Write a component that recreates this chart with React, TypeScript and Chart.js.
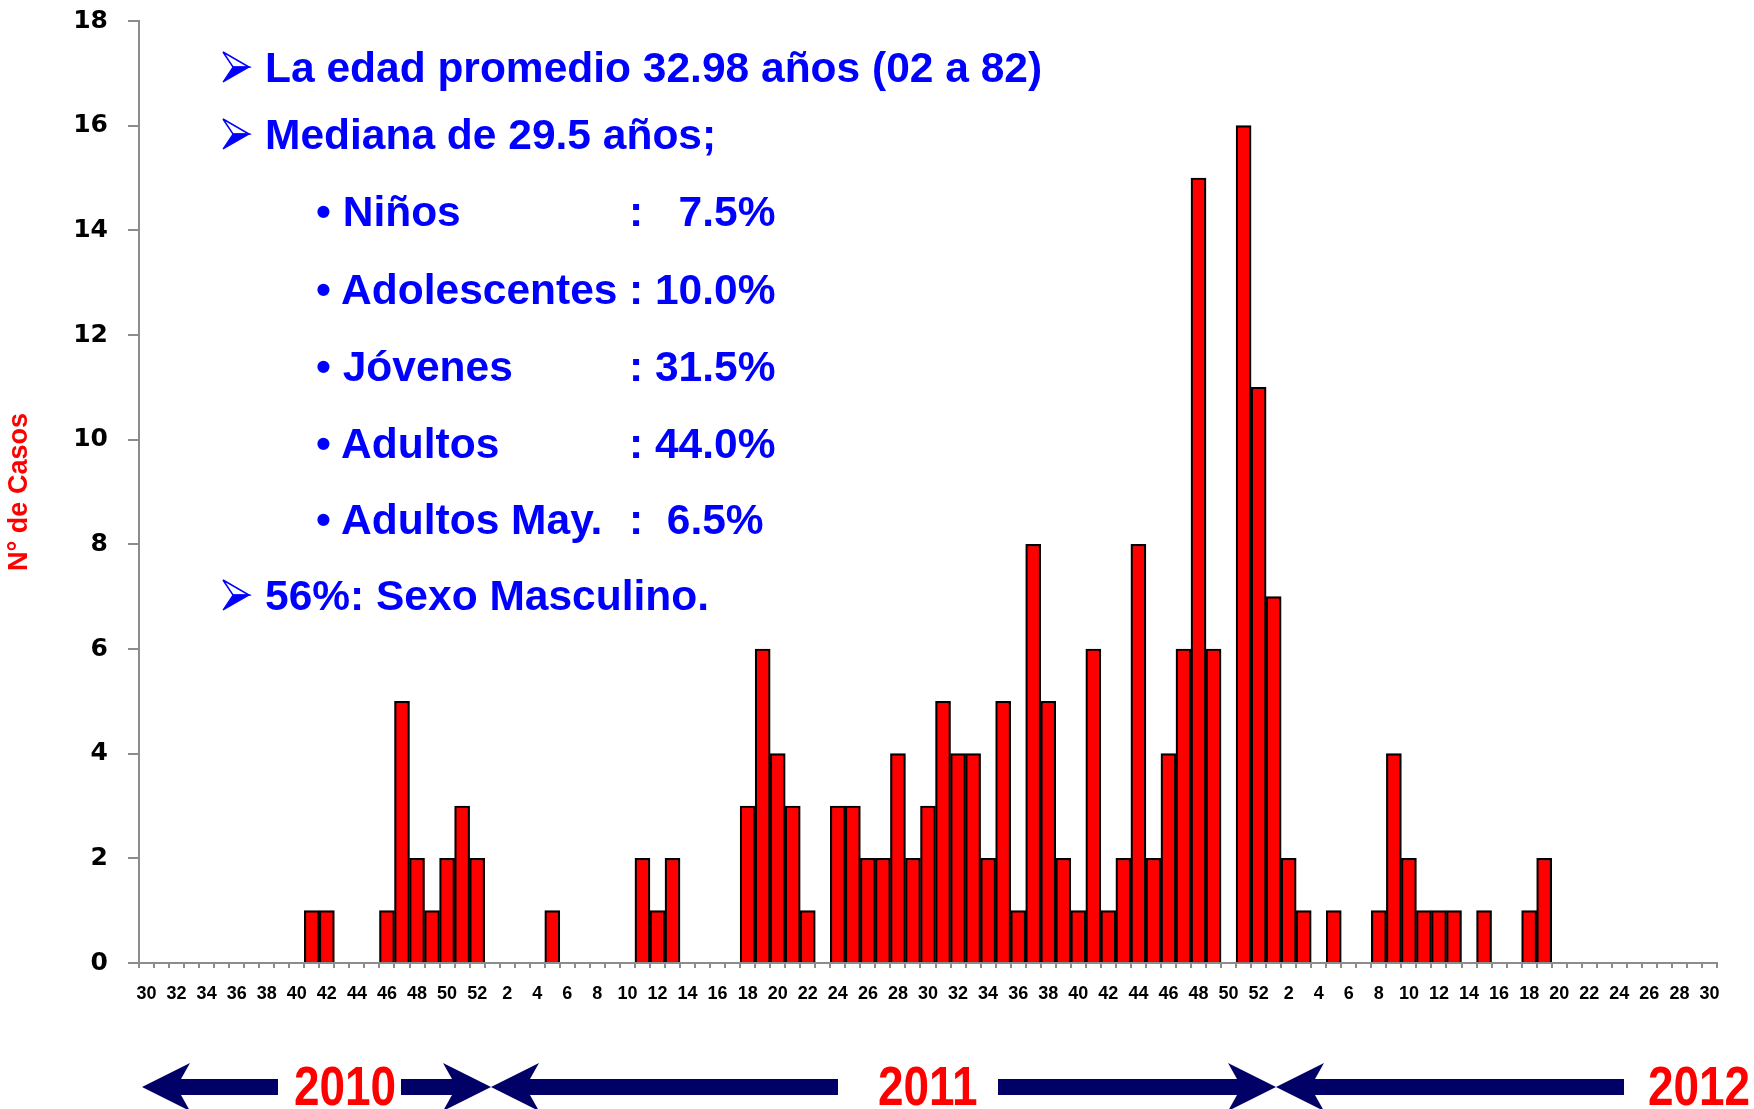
import React, { useEffect, useRef } from "react";
import { Chart, registerables } from "chart.js";

Chart.register(...registerables);

// Epidemiological weeks (2010 w30 – 2012 w30)
const weeks2010 = ["30","31","32","33","34","35","36","37","38","39","40","41","42","43","44","45","46","47","48","49","50","51","52"];
const weeks2011 = ["1","2","3","4","5","6","7","8","9","10","11","12","13","14","15","16","17","18","19","20","21","22","23","24","25","26","27","28","29","30","31","32","33","34","35","36","37","38","39","40","41","42","43","44","45","46","47","48","49","50","51","52"];
const weeks2012 = ["1","2","3","4","5","6","7","8","9","10","11","12","13","14","15","16","17","18","19","20","21","22","23","24","25","26","27","28","29","30"];

// N° de casos per week
const cases2010 = [0,0,0,0,0,0,0,0,0,0,0,1,1,0,0,0,1,5,2,1,2,3,2];
const cases2011 = [0,0,0,0,1,0,0,0,0,0,2,1,2,0,0,0,0,3,6,4,3,1,0,3,3,2,2,4,2,3,5,4,4,2,5,1,8,5,2,1,6,1,2,8,2,4,6,15,6,0,16,11];
const cases2012 = [7,2,1,0,1,0,0,1,4,2,1,1,1,0,1,0,0,1,2,0,0,0,0,0,0,0,0,0,0,0];

const yMin = 0;
const yMax = 18;
const yStep = 2;

const yearLabels = ["2010", "2011", "2012"];
const yAxisTitle = "N° de Casos";

const headlineLines = [
  "La edad promedio 32.98 años (02 a 82)",
  "Mediana de 29.5 años;",
];
const groupNames = ["• Niños", "• Adolescentes", "• Jóvenes", "• Adultos", "• Adultos May."];
const groupValues = [":   7.5%", ": 10.0%", ": 31.5%", ": 44.0%", ":  6.5%"];
const footerLine = "56%: Sexo Masculino.";

const categories = [...weeks2010, ...weeks2011, ...weeks2012];
const cases = [...cases2010, ...cases2011, ...cases2012];

const BLUE = "#0000ff";
const RED = "#ff0000";
const NAVY = "#000066";
const AXIS_GREY = "#8c8c8c";

function arrowPoints(tip: number, end: number, cy: number): string {
  const dir = end > tip ? 1 : -1;
  const headLen = 48;
  const notch = 39;
  const half = 24;
  const sh = 8;
  const pts = [
    [tip, cy],
    [tip + dir * headLen, cy - half],
    [tip + dir * notch, cy - sh],
    [end, cy - sh],
    [end, cy + sh],
    [tip + dir * notch, cy + sh],
    [tip + dir * headLen, cy + half],
  ];
  return pts.map((p) => p.join(",")).join(" ");
}

function BulletArrow({ cy }: { cy: number }) {
  // 3D arrowhead bullet (outlined upper half, filled lower half)
  const l = 223, t = cy - 15, r = 249, b = cy + 15, n = 233;
  return (
    <g>
      <polygon points={`${l},${t} ${r},${cy} ${n},${cy}`} fill="#ffffff" stroke={BLUE} strokeWidth={1.5} strokeLinejoin="miter" />
      <polygon points={`${n},${cy} ${r},${cy} ${l},${b}`} fill={BLUE} stroke={BLUE} strokeWidth={1.2} />
    </g>
  );
}

export default function App() {
  const canvasRef = useRef<HTMLCanvasElement | null>(null);

  useEffect(() => {
    if (!canvasRef.current) return;
    const chart = new Chart(canvasRef.current, {
      type: "bar",
      data: {
        labels: categories,
        datasets: [
          {
            data: cases,
            backgroundColor: (ctx: any) => (ctx.raw === 0 ? "rgba(0,0,0,0)" : RED),
            borderColor: "#000000",
            borderWidth: (ctx: any) => (ctx.raw === 0 ? 0 : 2.2),
            barPercentage: 1,
            categoryPercentage: 1,
          },
        ],
      },
      options: {
        animation: false,
        responsive: false,
        devicePixelRatio: 1,
        layout: { padding: { top: 21, right: 37, left: 0, bottom: 0 } },
        plugins: {
          legend: { display: false },
          tooltip: { enabled: false },
        },
        scales: {
          x: {
            type: "category",
            offset: true,
            grid: {
              display: true,
              offset: true,
              drawOnChartArea: false,
              drawTicks: true,
              tickLength: 5,
              color: AXIS_GREY,
              lineWidth: 2,
            },
            border: { display: true, color: AXIS_GREY, width: 2 },
            ticks: {
              autoSkip: false,
              maxRotation: 0,
              minRotation: 0,
              padding: 15,
              color: "#000000",
              font: { family: "'Liberation Sans', Arial, sans-serif", weight: "bold", size: 18 },
              callback: (_v: any, index: number) => {
                const lab = categories[index];
                return Number(lab) % 2 === 0 ? lab : "";
              },
            },
            afterFit: (s: any) => {
              s.height = 146;
            },
          },
          y: {
            min: yMin,
            max: yMax,
            grid: {
              display: true,
              drawOnChartArea: false,
              drawTicks: true,
              tickLength: 11,
              color: AXIS_GREY,
              lineWidth: 2,
            },
            border: { display: true, color: AXIS_GREY, width: 2 },
            ticks: {
              stepSize: yStep,
              padding: 20,
              color: "#000000",
              font: { family: "'DejaVu Sans', sans-serif", weight: "bold", size: 25 },
            },
            title: {
              display: true,
              text: yAxisTitle,
              color: RED,
              padding: { top: 3, bottom: 0 },
              font: { family: "'Liberation Sans', Arial, sans-serif", weight: "bold", size: 27 },
            },
            afterFit: (s: any) => {
              s.width = 139;
              s.paddingTop = 0;
              s.paddingBottom = 0;
            },
          },
        },
      } as any,
    });
    return () => chart.destroy();
  }, []);

  const txt: React.CSSProperties = {
    position: "absolute",
    fontFamily: "'Liberation Sans', Arial, sans-serif",
    fontWeight: "bold",
    fontSize: 42.5,
    lineHeight: "43px",
    color: BLUE,
    whiteSpace: "pre",
    margin: 0,
  };
  const yearStyle: React.CSSProperties = {
    position: "absolute",
    fontFamily: "'Liberation Sans', Arial, sans-serif",
    fontWeight: "bold",
    fontSize: 56,
    lineHeight: "56px",
    color: RED,
    top: 1058,
    whiteSpace: "pre",
    transform: "scaleX(0.82)",
    transformOrigin: "0 0",
  };

  const groupTops = [190, 268, 345, 422, 498];
  const arrowCy = 1087;

  return (
    <div style={{ position: "absolute", left: 0, top: 0, width: 1754, height: 1109, overflow: "hidden", background: "#ffffff" }}>
      <canvas ref={canvasRef} width={1754} height={1109} style={{ position: "absolute", left: 0, top: 0, width: 1754, height: 1109 }} />

      <div style={{ ...txt, left: 265, top: 46 }}>{headlineLines[0]}</div>
      <div style={{ ...txt, left: 265, top: 113 }}>{headlineLines[1]}</div>

      {groupNames.map((g, i) => (
        <React.Fragment key={g}>
          <div style={{ ...txt, left: 316, top: groupTops[i] }}>{g}</div>
          <div style={{ ...txt, left: 629, top: groupTops[i] }}>{groupValues[i]}</div>
        </React.Fragment>
      ))}

      <div style={{ ...txt, left: 265, top: 574 }}>{footerLine}</div>

      <svg width={1754} height={1109} style={{ position: "absolute", left: 0, top: 0 }}>
        <BulletArrow cy={67} />
        <BulletArrow cy={134} />
        <BulletArrow cy={595} />
        <polygon points={arrowPoints(142, 278, arrowCy)} fill={NAVY} />
        <polygon points={arrowPoints(491, 401, arrowCy)} fill={NAVY} />
        <polygon points={arrowPoints(491, 838, arrowCy)} fill={NAVY} />
        <polygon points={arrowPoints(1276, 998, arrowCy)} fill={NAVY} />
        <polygon points={arrowPoints(1276, 1624, arrowCy)} fill={NAVY} />
      </svg>

      <div style={{ ...yearStyle, left: 294 }}>{yearLabels[0]}</div>
      <div style={{ ...yearStyle, left: 878 }}>{yearLabels[1]}</div>
      <div style={{ ...yearStyle, left: 1648 }}>{yearLabels[2]}</div>
    </div>
  );
}
